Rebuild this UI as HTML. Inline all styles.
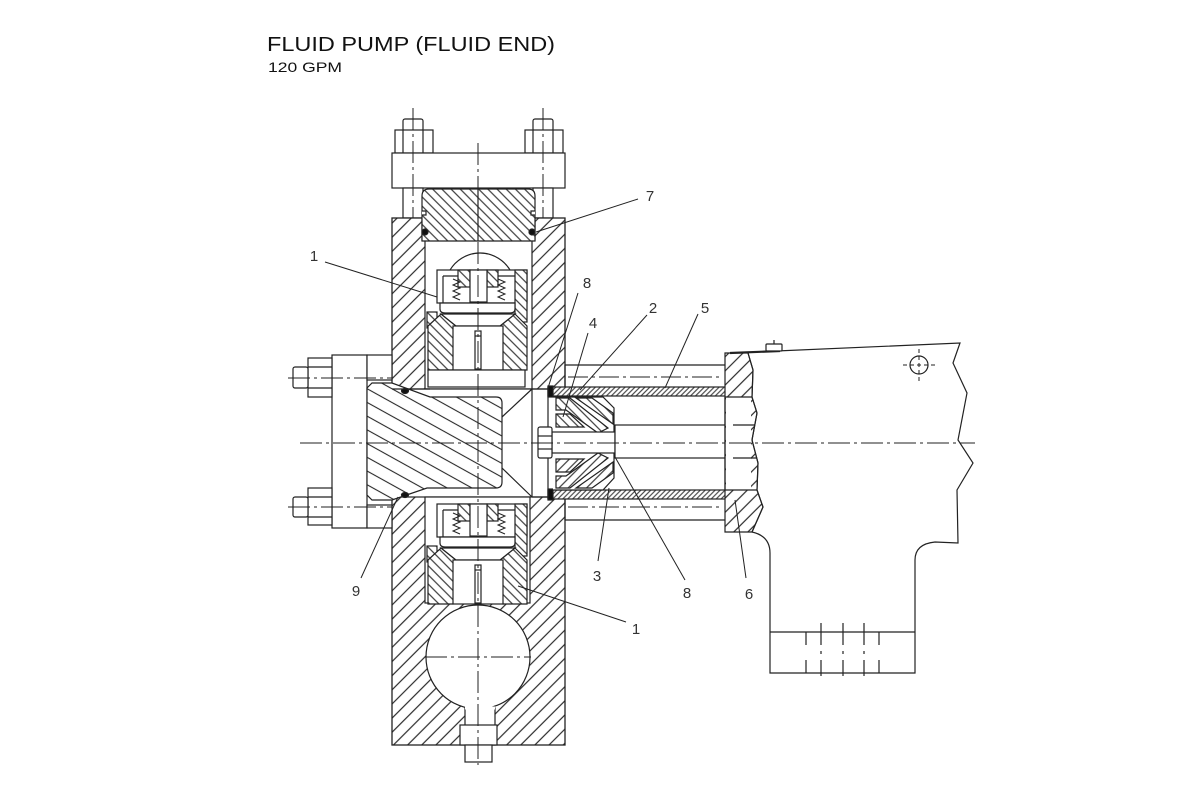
<!DOCTYPE html>
<html><head><meta charset="utf-8"><style>html,body{margin:0;padding:0;background:#fff}svg{display:block}</style></head><body>
<svg width="1200" height="800" viewBox="0 0 1200 800" xmlns="http://www.w3.org/2000/svg" xmlns:xlink="http://www.w3.org/1999/xlink">
<defs>
<pattern id="hb" width="10" height="10" patternUnits="userSpaceOnUse" patternTransform="rotate(45)"><rect width="10" height="10" fill="#fff"/><line x1="5" y1="0" x2="5" y2="10" stroke="#2a2a2a" stroke-width="1.2"/></pattern>
<pattern id="hp" width="12" height="12" patternUnits="userSpaceOnUse" patternTransform="rotate(29)"><rect width="12" height="12" fill="#fff"/><line x1="0" y1="6" x2="12" y2="6" stroke="#2a2a2a" stroke-width="1.1"/></pattern>
<pattern id="hg" width="6.5" height="6.5" patternUnits="userSpaceOnUse" patternTransform="rotate(-45)"><rect width="6.5" height="6.5" fill="#fff"/><line x1="3.25" y1="0" x2="3.25" y2="6.5" stroke="#2a2a2a" stroke-width="1.1"/></pattern>
<pattern id="hf" width="3.5" height="3.5" patternUnits="userSpaceOnUse" patternTransform="rotate(45)"><rect width="3.5" height="3.5" fill="#fff"/><line x1="1.75" y1="0" x2="1.75" y2="3.5" stroke="#2a2a2a" stroke-width="1"/></pattern>

<g id="valve">
  <rect x="437" y="270" width="90" height="33" fill="#fff"/>
  <line x1="443" y1="276" x2="443" y2="303"/>
  <line x1="443" y1="276" x2="515" y2="276"/>
  <rect x="458" y="270" width="12" height="17" fill="url(#hg)"/>
  <rect x="487" y="270" width="11" height="17" fill="url(#hg)"/>
  <rect x="470" y="270" width="17" height="32" fill="#fff"/>
  <rect x="515" y="270" width="12" height="52" fill="url(#hg)"/>
  <path d="M453,279 L460,282 L453,285 L460,288 L453,291 L460,294 L453,297 L460,300" stroke-width="1"/>
  <path d="M498,279 L505,282 L498,285 L505,288 L498,291 L505,294 L498,297 L505,300" stroke-width="1"/>
  <path d="M440,303 H515 V309 Q515,313 510,313 H445 Q440,313 440,309 Z" fill="#fff"/>
  <rect x="427" y="312" width="10" height="16" fill="url(#hg)"/>
  <path d="M428,326 L441,314 L456,326 L453,370 L428,370 Z" fill="url(#hg)"/>
  <path d="M500,326 L515,314 L527,326 L527,370 L503,370 Z" fill="url(#hg)"/>
  <path d="M441,314 H515 L500,326 H456 Z" fill="#fff"/>
  <rect x="453" y="326" width="50" height="44" fill="#fff"/>
  <rect x="475" y="331" width="6" height="38" fill="#fff"/>
  <line x1="475" y1="336" x2="481" y2="336"/>
</g>
</defs>

<text x="267" y="51" font-family="Liberation Sans, Arial, sans-serif" font-size="20" fill="#111" textLength="288" lengthAdjust="spacingAndGlyphs">FLUID PUMP (FLUID END)</text>
<text x="268" y="72" font-family="Liberation Sans, Arial, sans-serif" font-size="14" fill="#111" textLength="74" lengthAdjust="spacingAndGlyphs">120 GPM</text>

<g stroke="#222" stroke-width="1.2" fill="none">
  <rect x="403" y="119" width="20" height="12" rx="2" fill="#fff"/>
  <rect x="395" y="130" width="38" height="23" fill="#fff"/>
  <line x1="403" y1="130" x2="403" y2="153"/><line x1="423" y1="130" x2="423" y2="153"/>
  <rect x="533" y="119" width="20" height="12" rx="2" fill="#fff"/>
  <rect x="525" y="130" width="38" height="23" fill="#fff"/>
  <line x1="533" y1="130" x2="533" y2="153"/><line x1="553" y1="130" x2="553" y2="153"/>
  <rect x="392" y="153" width="173" height="35" fill="#fff"/>
  <rect x="403" y="188" width="20" height="30" fill="#fff"/>
  <rect x="533" y="188" width="20" height="30" fill="#fff"/>

  <rect x="392" y="218" width="173" height="527" fill="url(#hb)" stroke-width="1.3"/>
  <path d="M422,218 H535 V240 H532 V389 H425 V240 H422 Z" fill="#fff"/>
  <rect x="392" y="389" width="173" height="108" fill="#fff"/>
  <line x1="565" y1="389" x2="565" y2="497" stroke="#fff" stroke-width="3"/>
  <rect x="425" y="497" width="105" height="106" fill="#fff"/>
  <circle cx="478" cy="657" r="52" fill="#fff"/>
  <rect x="465" y="708" width="30" height="37" fill="#fff"/>
  <line x1="465" y1="708" x2="495" y2="708" stroke="#fff" stroke-width="3"/>
  <rect x="460" y="725" width="37" height="20" fill="#fff"/>
  <rect x="465" y="745" width="27" height="17" fill="#fff"/>

  <path d="M422,241 V196 Q422,189 429,189 H528 Q535,189 535,196 V241 Z" fill="url(#hg)"/>
  <line x1="478" y1="189" x2="478" y2="241"/>
  <path d="M422,211 H426 V215 H422" fill="#fff"/>
  <path d="M535,211 H531 V215 H535" fill="#fff"/>
  <ellipse cx="425" cy="232" rx="3" ry="3" fill="#111"/>
  <ellipse cx="532" cy="232" rx="3" ry="3" fill="#111"/>

  <path d="M450,270 A35,35 0 0 1 510,270"/>
  <use xlink:href="#valve"/>
  <rect x="428" y="370" width="97" height="17" fill="#fff"/>
  <use xlink:href="#valve" transform="translate(0,234)"/>

  <rect x="332" y="355" width="35" height="173" fill="#fff"/>
  <rect x="367" y="355" width="25" height="25" fill="#fff"/>
  <rect x="367" y="505" width="25" height="23" fill="#fff"/>
  <rect x="308" y="358" width="24" height="39" fill="#fff"/>
  <line x1="308" y1="367" x2="332" y2="367"/><line x1="308" y1="388" x2="332" y2="388"/>
  <rect x="293" y="367" width="15" height="21" rx="2" fill="#fff"/>
  <rect x="308" y="488" width="24" height="37" fill="#fff"/>
  <line x1="308" y1="497" x2="332" y2="497"/><line x1="308" y1="517" x2="332" y2="517"/>
  <rect x="293" y="497" width="15" height="20" rx="2" fill="#fff"/>

  <path d="M372,383 H392 L430,397 H496 Q502,397 502,403 V482 Q502,488 496,488 H427 L392,500 H372 L367,495 V388 Z" fill="url(#hp)"/>
  <ellipse cx="405" cy="391" rx="3.5" ry="2.5" fill="#111"/>
  <ellipse cx="405" cy="495" rx="3.5" ry="2.5" fill="#111"/>
  <line x1="502" y1="417" x2="532" y2="389"/>
  <line x1="502" y1="468" x2="532" y2="497"/>
  <line x1="532" y1="389" x2="532" y2="497"/>
  <line x1="392" y1="389" x2="430" y2="389"/>
  <line x1="532" y1="389" x2="565" y2="389"/>
  <line x1="532" y1="497" x2="565" y2="497"/>

  <line x1="565" y1="365" x2="725" y2="365"/>
  <line x1="565" y1="520" x2="725" y2="520"/>
  <line x1="565" y1="365" x2="565" y2="520"/>
  <line x1="568" y1="377" x2="722" y2="377" stroke-width="1" stroke-dasharray="20,4,3,4"/>
  <line x1="568" y1="507" x2="722" y2="507" stroke-width="1" stroke-dasharray="20,4,3,4"/>
  <rect x="548" y="387" width="185" height="9" fill="url(#hf)"/>
  <rect x="548" y="490" width="185" height="9" fill="url(#hf)"/>
  <rect x="548" y="386" width="5" height="11" fill="#111"/>
  <rect x="548" y="489" width="5" height="11" fill="#111"/>
  <line x1="548" y1="387" x2="548" y2="499"/>
  <line x1="730" y1="396" x2="730" y2="490"/>
  <line x1="733" y1="396" x2="733" y2="490"/>

  <path d="M553,397 H603 L614,408 V478 L603,490 H553" fill="#fff"/>
  <g id="pk">
    <path d="M556,398 H570 L608,428 L598,433 L566,410 H556 Z" fill="url(#hg)"/>
    <path d="M576,398 H592 L613,413 V424 Z" fill="url(#hg)"/>
    <path d="M556,414 H570 L584,427 H556 Z" fill="url(#hg)"/>
  </g>
  <use xlink:href="#pk" transform="matrix(1,0,0,-1,0,886)"/>
  <rect x="552" y="432" width="63" height="21" fill="#fff"/>
  <rect x="538" y="427" width="14" height="31" rx="2" fill="#fff"/>
  <line x1="538" y1="436" x2="552" y2="436"/><line x1="538" y1="449" x2="552" y2="449"/>
  <rect x="615" y="425" width="137" height="33" fill="#fff"/>

  <path d="M725,353 H748 L753,370 L752,397 L757,413 L752,440 L758,463 L757,490 L763,507 L752,532 H725 Z" fill="url(#hb)"/>
  <rect x="726" y="397" width="25" height="93" fill="#fff" stroke="none"/>
  <line x1="725" y1="397" x2="752" y2="397"/>
  <line x1="725" y1="490" x2="757" y2="490"/>
  <line x1="725" y1="397" x2="725" y2="490"/>
  <line x1="733" y1="425" x2="755" y2="425"/>
  <line x1="733" y1="458" x2="757" y2="458"/>

  <path d="M730,353 L960,343 L953,363 L967,393 L958,440 L973,463 L957,490 L958,543 L935,542 Q915,544 915,560 V673 H770 V553 Q770,536 752,532" fill="none"/>
  <path d="M748,353 L753,370 L752,397 L757,413 L752,440 L758,463 L757,490 L763,507 L752,532"/>
  <line x1="730" y1="353" x2="780" y2="351" stroke-width="2.2"/>
  <rect x="766" y="344" width="16" height="7" rx="1" fill="#fff"/>
  <line x1="774" y1="340" x2="774" y2="344"/>
  <circle cx="919" cy="365" r="9" fill="#fff"/>
  <line x1="903" y1="365" x2="935" y2="365" stroke-width="1" stroke-dasharray="4,3"/>
  <line x1="919" y1="349" x2="919" y2="381" stroke-width="1" stroke-dasharray="4,3"/>
  <line x1="770" y1="632" x2="915" y2="632"/>
  <g stroke-width="1.2">
    <line x1="806" y1="632" x2="806" y2="645"/><line x1="806" y1="660" x2="806" y2="673"/>
    <line x1="821" y1="623" x2="821" y2="645"/><line x1="821" y1="660" x2="821" y2="676"/>
    <line x1="843" y1="623" x2="843" y2="645"/><line x1="843" y1="660" x2="843" y2="676"/>
    <line x1="864" y1="623" x2="864" y2="645"/><line x1="864" y1="660" x2="864" y2="676"/>
    <line x1="879" y1="632" x2="879" y2="645"/><line x1="879" y1="660" x2="879" y2="673"/>
    <line x1="821" y1="651" x2="821" y2="654"/><line x1="843" y1="651" x2="843" y2="654"/><line x1="864" y1="651" x2="864" y2="654"/>
  </g>

  <g stroke-width="1" stroke-dasharray="22,4,3,4">
    <line x1="300" y1="443" x2="975" y2="443"/>
    <line x1="478" y1="143" x2="478" y2="765"/>
    <line x1="413" y1="108" x2="413" y2="218"/>
    <line x1="543" y1="108" x2="543" y2="218"/>
    <line x1="288" y1="378" x2="392" y2="378"/>
    <line x1="288" y1="507" x2="392" y2="507"/>
    <line x1="425" y1="657" x2="531" y2="657"/>
  </g>

  <g stroke-width="1">
    <line x1="638" y1="199" x2="536" y2="232"/>
    <line x1="325" y1="262" x2="437" y2="297"/>
    <line x1="578" y1="293" x2="548" y2="388"/>
    <line x1="588" y1="333" x2="563" y2="417"/>
    <line x1="647" y1="315" x2="580" y2="390"/>
    <line x1="698" y1="314" x2="665" y2="388"/>
    <line x1="609" y1="488" x2="598" y2="561"/>
    <line x1="615" y1="457" x2="685" y2="580"/>
    <line x1="735" y1="500" x2="746" y2="578"/>
    <line x1="361" y1="578" x2="398" y2="497"/>
    <line x1="518" y1="586" x2="626" y2="622"/>
  </g>
</g>

<g font-family="Liberation Sans, Arial, sans-serif" font-size="15" fill="#333" text-anchor="middle">
  <text x="650" y="201">7</text>
  <text x="314" y="261">1</text>
  <text x="587" y="288">8</text>
  <text x="593" y="328">4</text>
  <text x="653" y="313">2</text>
  <text x="705" y="313">5</text>
  <text x="597" y="581">3</text>
  <text x="687" y="598">8</text>
  <text x="749" y="599">6</text>
  <text x="356" y="596">9</text>
  <text x="636" y="634">1</text>
</g>
</svg>
</body></html>
